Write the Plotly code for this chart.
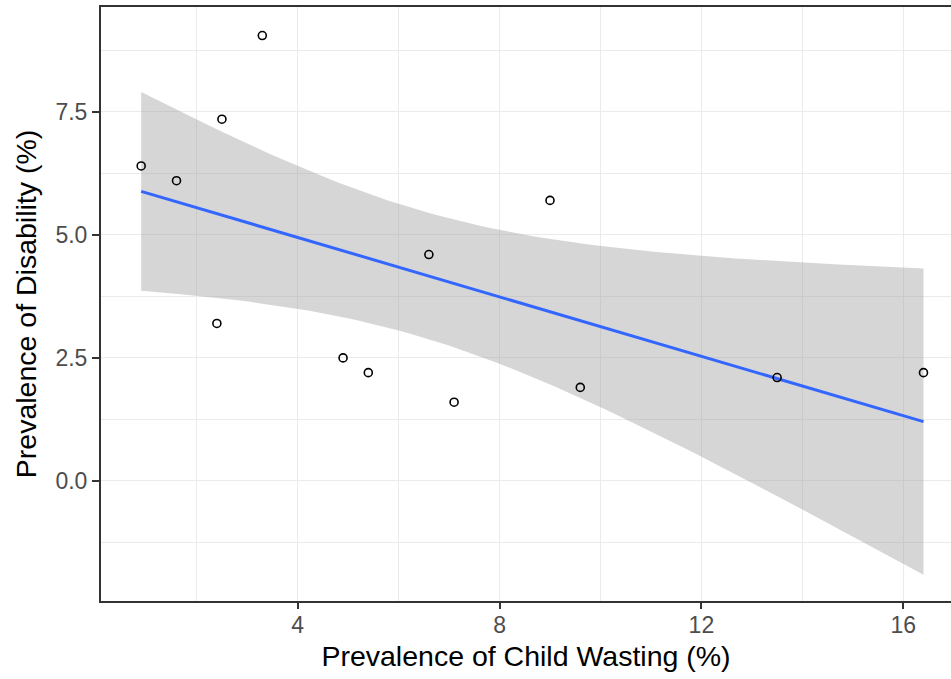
import numpy as np
import plotly.graph_objects as go

# Child wasting vs disability prevalence (%)
wasting = [0.9, 1.6, 2.5, 3.3, 2.4, 4.9, 5.4, 7.1, 6.6, 9.0, 9.6, 13.5, 16.4]
disability = [6.4, 6.1, 7.35, 9.05, 3.2, 2.5, 2.2, 1.6, 4.6, 5.7, 1.9, 2.1, 2.2]

x_ticks = [4, 8, 12, 16]
y_ticks = [0.0, 2.5, 5.0, 7.5]

# Ordinary least squares fit with a 95% confidence band (like geom_smooth(method="lm"))
x = np.array(wasting, dtype=float)
y = np.array(disability, dtype=float)
n = len(x)
slope, intercept = np.polyfit(x, y, 1)
resid = y - (intercept + slope * x)
s = np.sqrt(np.sum(resid ** 2) / (n - 2))
sxx = np.sum((x - x.mean()) ** 2)
t_crit = 2.200985  # t quantile, 0.975, df = 11

xs = np.linspace(x.min(), x.max(), 80)
fit = intercept + slope * xs
se = s * np.sqrt(1.0 / n + (xs - x.mean()) ** 2 / sxx)
upper = fit + t_crit * se
lower = fit - t_crit * se

fig = go.Figure()

fig.add_trace(go.Scatter(
    x=np.concatenate([xs, xs[::-1]]),
    y=np.concatenate([upper, lower[::-1]]),
    fill="toself",
    fillcolor="rgba(153,153,153,0.4)",
    line=dict(width=0),
    mode="lines",
    hoverinfo="skip",
    showlegend=False,
))

fig.add_trace(go.Scatter(
    x=xs, y=fit, mode="lines",
    line=dict(color="#3366FF", width=3),
    showlegend=False,
))

fig.add_trace(go.Scatter(
    x=wasting, y=disability, mode="markers",
    marker=dict(symbol="circle-open", size=8, color="black", line=dict(width=1.6, color="black")),
    showlegend=False,
))

grid = "#EBEBEB"
tick_font = dict(family="Liberation Sans, Arial, sans-serif", size=23, color="#4D4D4D")
title_font = dict(family="Liberation Sans, Arial, sans-serif", size=28.5, color="black")

fig.update_layout(
    width=951, height=679,
    margin=dict(l=101, r=0, t=7, b=78),
    paper_bgcolor="white",
    plot_bgcolor="white",
    xaxis=dict(
        range=[0.104, 16.945],
        tickmode="array", tickvals=x_ticks, ticktext=[str(v) for v in x_ticks],
        ticks="outside", ticklen=6, tickwidth=1.5, tickcolor="#333333",
        tickfont=tick_font, ticklabelstandoff=-4,
        showgrid=True, gridcolor=grid, gridwidth=1.2,
        minor=dict(tickmode="array", tickvals=[2, 6, 10, 14], showgrid=True,
                   gridcolor=grid, gridwidth=0.8, ticks=""),
        showline=True, linecolor="#333333", linewidth=2, mirror=True,
        zeroline=False,
        title=dict(text="Prevalence of Child Wasting (%)", font=title_font, standoff=9),
    ),
    yaxis=dict(
        range=[-2.44, 9.63],
        tickmode="array", tickvals=y_ticks, ticktext=[f"{v:.1f}" for v in y_ticks],
        ticks="outside", ticklen=7, tickwidth=1.5, tickcolor="#333333",
        tickfont=tick_font,
        showgrid=True, gridcolor=grid, gridwidth=1.2,
        minor=dict(tickmode="array", tickvals=[-1.25, 1.25, 3.75, 6.25, 8.75], showgrid=True,
                   gridcolor=grid, gridwidth=0.8, ticks=""),
        showline=True, linecolor="#333333", linewidth=2, mirror=False,
        zeroline=False,
        title=dict(text="Prevalence of Disability (%)", font=title_font, standoff=10),
    ),
)

fig.write_html("out.html")
